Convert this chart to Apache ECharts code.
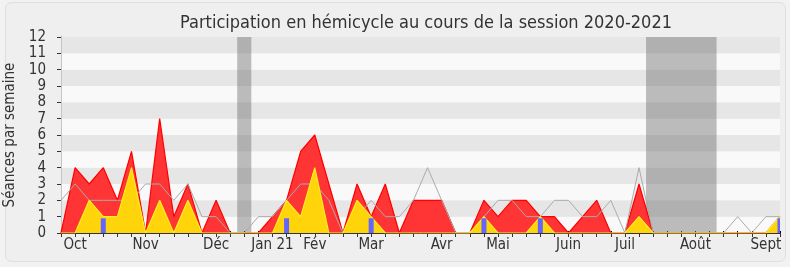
<!DOCTYPE html>
<html>
<head>
<meta charset="utf-8">
<script src="https://cdn.jsdelivr.net/npm/echarts@6/dist/echarts.min.js"></script>
<style>html,body{margin:0;padding:0;background:#f2f2f2}#c{width:790px;height:267px}</style>
</head>
<body>
<div id="c"></div>
<script>
// weekly data, week index 0..51 (Sept 2020 -> Sept 2021)
var presence = [0,4,3,4,2,5,0,7,1,3,0,2,0,0,0,1,2,5,6,3,0,3,1,3,0,2,2,2,0,0,2,1,2,2,1,1,0,1,2,0,0,3,0,0,0,0,0,0,0,0,0,1];
var interventions = [0,0,2,1,1,4,0,2,0,2,0,0,0,0,0,0,2,1,4,0,0,2,1,0,0,0,0,0,0,0,1,0,0,0,1,0,0,0,0,0,0,1,0,0,0,0,0,0,0,0,0,1];
var mediane = [2,3,2,2,2,2,3,3,2,3,1,1,0,0,1,1,2,3,3,2,0,1,2,1,1,2,4,2,0,0,1,2,2,1,1,2,2,1,1,2,0,4,0,0,0,0,0,0,1,0,1,1];
var questionWeeks = [3,16,22,30,34,51];
var questionValues = [0.9,0.9,0.9,0.9,0.9,0.9];
var monthWeeks = [1,6,11,15,18,22,27,31,36,40,45,50];
var monthLabels = ['Oct','Nov','Déc','Jan 21','Fév','Mar','Avr','Mai','Juin','Juil','Août','Sept'];
var vacances = [[12.5,13.5],[41.5,46.5]];
var yTicks = [0,1,2,3,4,5,6,7,8,9,10,11,12];

function pairs(arr){ return arr.map(function(v,i){return [i,v];}); }
var labelMap = {};
monthWeeks.forEach(function(w,i){ labelMap[w]=monthLabels[i]; });
var FONT = '"DejaVu Sans Condensed","DejaVu Sans",sans-serif';

var chart = echarts.init(document.getElementById('c'), null, {renderer:'canvas'});
chart.setOption({
  animation:false,
  backgroundColor:'#f2f2f2',
  textStyle:{fontFamily:FONT},
  graphic:[{type:'rect',shape:{x:5.5,y:2.5,width:780,height:259,r:6},style:{fill:'#efefef',stroke:'#dedede',lineWidth:1},z:-10}],
  title:{text:'Participation en hémicycle au cours de la session 2020-2021',left:421,textAlign:'center',top:9,
    textStyle:{fontFamily:FONT,fontSize:18,fontWeight:'normal',color:'#333'}},
  grid:{left:61,right:10,top:37,bottom:34,containLabel:false,outerBoundsMode:'none'},
  xAxis:[{
    type:'value',min:0,max:51,interval:1,position:'bottom',
    axisLine:{show:true,lineStyle:{color:'#333',width:1}},
    axisTick:{show:true,length:4,lineStyle:{color:'#333'}},
    axisLabel:{show:true,margin:5,fontSize:15,color:'#333',fontFamily:FONT,
      showMinLabel:true,showMaxLabel:true,
      formatter:function(v){return labelMap[v]||'';}},
    splitLine:{show:false}
  },{
    type:'value',min:0,max:51,interval:1,position:'top',
    axisLine:{show:false},
    axisTick:{show:true,length:2,lineStyle:{color:'#000'}},
    axisLabel:{show:false},splitLine:{show:false}
  }],
  yAxis:[{
    type:'value',min:0,max:12,interval:1,
    name:'Séances par semaine',nameLocation:'middle',nameGap:39,nameRotate:90,
    nameTextStyle:{fontSize:15,color:'#333',fontFamily:FONT},
    axisLine:{show:true,lineStyle:{color:'#333'}},
    axisTick:{show:true,length:4,lineStyle:{color:'#333'}},
    axisLabel:{margin:15,fontSize:15,color:'#333',fontFamily:FONT,
      formatter:function(v){return yTicks.indexOf(v)>=0?String(v):'';}},
    splitLine:{show:false},
    splitArea:{show:true,areaStyle:{color:['#f9f9f9','#e6e6e6']}}
  },{
    type:'value',min:0,max:12,interval:1,position:'right',
    axisLine:{show:true,lineStyle:{color:'#c4c4c4'}},
    axisTick:{show:false},axisLabel:{show:false},splitLine:{show:false}
  }],
  series:[
    {type:'line',name:'vacances',data:[],z:1,silent:true,
      markArea:{silent:true,itemStyle:{color:'rgba(110,110,110,0.45)'},
        data:vacances.map(function(v){return [{xAxis:v[0]},{xAxis:v[1]}];})}},
    {type:'line',name:'présence',data:pairs(presence),symbol:'none',z:2,
      lineStyle:{color:'#ff0000',width:1.2},areaStyle:{color:'#ff3434',opacity:1}},
    {type:'line',name:'médiane',data:pairs(mediane),symbol:'none',z:3,
      lineStyle:{color:'#aaaaaa',width:1}},
    {type:'line',name:'interventions',data:pairs(interventions),symbol:'none',z:4,
      lineStyle:{color:'#ffee22',width:1.2},areaStyle:{color:'#ffd40a',opacity:1}},
    {type:'custom',name:'questions',z:5,clip:true,
      data:questionWeeks.map(function(w,i){return [w,questionValues[i]];}),
      encode:{x:0,y:1},
      renderItem:function(params,api){
        var top=api.coord([api.value(0),api.value(1)]);
        var base=api.coord([api.value(0),0]);
        var rect=echarts.graphic.clipRectByRect({x:top[0]-2.5,y:top[1],width:5,height:base[1]-top[1]},
          {x:params.coordSys.x,y:params.coordSys.y,width:params.coordSys.width,height:params.coordSys.height});
        return rect?{type:'rect',shape:rect,style:{fill:'#6464ff'}}:null;
      }}
  ]
});
</script>
</body>
</html>
